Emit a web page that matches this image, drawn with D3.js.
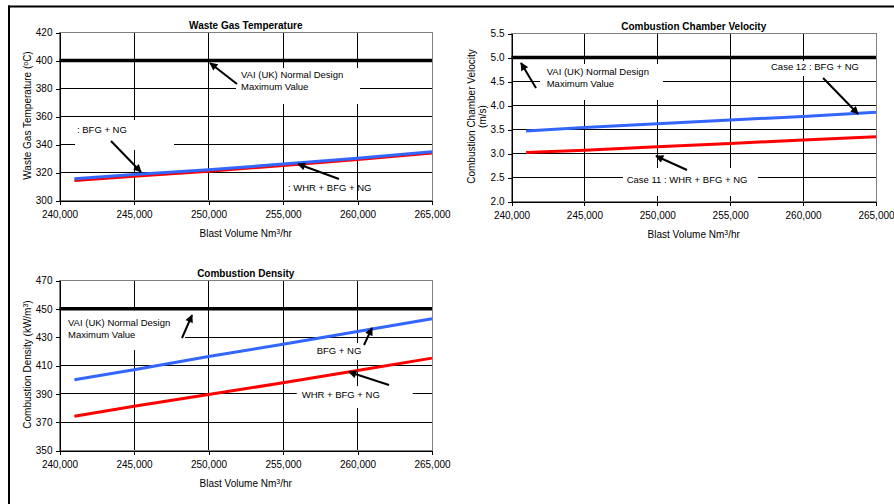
<!DOCTYPE html>
<html>
<head>
<meta charset="utf-8">
<script src="https://cdn.jsdelivr.net/npm/d3@7"></script>
<style>
  body { margin: 0; background: #fff; }
  svg { display: block; font-family: "Liberation Sans", Arial, sans-serif; }
</style>
</head>
<body>
<div id="viz"></div>
<script>
// blast volume (Nm3/hr) at which the cases were run
const blastVolume = [241000, 245000, 250000, 255000, 260000, 265000];
const blastTicks = [240000, 245000, 250000, 255000, 260000, 265000];

// waste gas temperature (C)
const tempBFG = [315.5, 318.6, 322.0, 326.0, 330.2, 334.8];
const tempWHR = [314.3, 317.3, 320.9, 325.0, 329.3, 334.0];
const tempLimit = 400;
const tempTicks = [300, 320, 340, 360, 380, 400, 420];

// combustion chamber velocity (m/s)
const velBFG = [3.47, 3.54, 3.62, 3.70, 3.77, 3.86];
const velWHR = [3.02, 3.07, 3.14, 3.21, 3.28, 3.35];
const velLimit = 5.0;
const velTicks = [2.0, 2.5, 3.0, 3.5, 4.0, 4.5, 5.0, 5.5];

// combustion density (kW/m3)
const densBFG = [400.0, 407.0, 416.4, 425.0, 434.0, 443.0];
const densWHR = [374.2, 381.3, 389.5, 397.8, 406.5, 415.2];
const densLimit = 450;
const densTicks = [350, 370, 390, 410, 430, 450, 470];

// text call-outs, placed in data units: text anchor, white box, arrow tail -> head
const tempNotes = [
  {lines: ["VAI (UK) Normal Design", "Maximum Value"], at: [252181, 387.5],
   box: [251846, 260168, 394.6, 368.9], arrow: [[251913, 383.2], [250101, 398.2]]},
  {lines: [": BFG + NG"], at: [241174, 348.2],
   box: [241040, 247685, 357.5, 336.1], arrow: [[243456, 342.5], [245470, 320.4]]},
  {lines: [": WHR + BFG + NG"], at: [255336, 306.8],
   box: null, arrow: [[258758, 315.4], [256007, 326.1]]}
];
const velNotes = [
  {lines: ["VAI (UK) Normal Design", "Maximum Value"], at: [242414, 4.635],
   box: [241955, 250391, 4.864, 4.115], arrow: [[241680, 4.365], [240652, 4.885]]},
  {lines: ["Case 12 : BFG + NG"], at: [257798, 4.74],
   box: [257592, 263971, 4.927, 4.615], arrow: [[261372, 4.573], [263772, 3.823]]},
  {lines: ["Case 11 : WHR + BFG + NG"], at: [247901, 2.385],
   box: [247647, 256907, 2.698, 2.115], arrow: [[252037, 2.656], [249911, 2.948]]}
];
const densNotes = [
  {lines: ["VAI (UK) Normal Design", "Maximum Value"], at: [240570, 438.1],
   box: [240101, 248423, 449.1, 420.9], arrow: [[248221, 429.4], [248893, 445.6]]},
  {lines: ["BFG + NG"], at: [257262, 417.9],
   box: [256946, 260503, 425.9, 413.9], arrow: [[260436, 424.5], [260973, 436.5]]},
  {lines: ["WHR + BFG + NG"], at: [256255, 386.8],
   box: [255923, 263708, 395.5, 380.0], arrow: [[262114, 396.2], [259430, 405.4]]}
];

const charts = [
  {title: "Waste Gas Temperature", left: 59.5, top: 32.5, width: 372.5, height: 168,
   yTicks: tempTicks, yFormat: d3.format("d"), bfg: tempBFG, whr: tempWHR, limit: tempLimit,
   notes: tempNotes, yLabel: [["Waste Gas Temperature (", ["o", true], "C)"]], yLabelX: [-28.5]},
  {title: "Combustion Chamber Velocity", left: 511.5, top: 33.5, width: 364.5, height: 168,
   yTicks: velTicks, yFormat: d3.format(".1f"), bfg: velBFG, whr: velWHR, limit: velLimit,
   notes: velNotes, yLabel: [["Combustion Chamber Velocity"], ["(m/s)"]], yLabelX: [-37, -25.5]},
  {title: "Combustion Density", left: 59.5, top: 280.5, width: 372.5, height: 170,
   yTicks: densTicks, yFormat: d3.format("d"), bfg: densBFG, whr: densWHR, limit: densLimit,
   notes: densNotes, yLabel: [["Combustion Density (kW/m", ["3", true], ")"]], yLabelX: [-28.5]}
];

const W = 894, H = 504;
const svg = d3.select("#viz").append("svg").attr("width", W).attr("height", H);

svg.append("defs").append("marker")
    .attr("id", "arrowhead")
    .attr("viewBox", "0 0 10 10")
    .attr("refX", 9).attr("refY", 5)
    .attr("markerWidth", 9).attr("markerHeight", 8)
    .attr("markerUnits", "userSpaceOnUse")
    .attr("orient", "auto")
  .append("path")
    .attr("d", "M0,0 L10,5 L0,10 z")
    .attr("fill", "#000");

// page frame (left + top rules)
svg.append("line").attr("x1", 9).attr("x2", 9).attr("y1", 5.5).attr("y2", H)
    .attr("stroke", "#000").attr("stroke-width", 2);
svg.append("line").attr("x1", 8).attr("x2", W).attr("y1", 6.5).attr("y2", 6.5)
    .attr("stroke", "#000").attr("stroke-width", 2);

function addRich(text, parts) {
  parts.forEach(p => {
    if (Array.isArray(p)) {
      text.append("tspan").attr("baseline-shift", "super").attr("font-size", 7).text(p[0]);
    } else {
      text.append("tspan").text(p);
    }
  });
}

function drawChart(c) {
  const x = d3.scaleLinear().domain([240000, 265000]).range([c.left, c.left + c.width]);
  const y = d3.scaleLinear().domain(d3.extent(c.yTicks)).range([c.top + c.height, c.top]);
  const g = svg.append("g");

  // grid
  g.append("g").selectAll("line")
    .data(c.yTicks.slice(1, -1))
    .join("line")
      .attr("x1", x.range()[0]).attr("x2", x.range()[1])
      .attr("y1", d => y(d)).attr("y2", d => y(d))
      .attr("stroke", "#000").attr("shape-rendering", "crispEdges");
  g.append("g").selectAll("line")
    .data(blastTicks.slice(1, -1))
    .join("line")
      .attr("x1", d => x(d)).attr("x2", d => x(d))
      .attr("y1", y.range()[0]).attr("y2", y.range()[1])
      .attr("stroke", "#000").attr("shape-rendering", "crispEdges");

  g.append("rect")
    .attr("x", c.left).attr("y", c.top)
    .attr("width", c.width).attr("height", c.height)
    .attr("fill", "none").attr("stroke", "#808080").attr("shape-rendering", "crispEdges");

  // white boxes behind the call-out text
  g.append("g").selectAll("rect")
    .data(c.notes.filter(n => n.box))
    .join("rect")
      .attr("x", d => x(d.box[0])).attr("y", d => y(d.box[2]))
      .attr("width", d => x(d.box[1]) - x(d.box[0]))
      .attr("height", d => y(d.box[3]) - y(d.box[2]))
      .attr("fill", "#fff");

  // axes
  const xAxis = g.append("g")
    .attr("transform", `translate(0,${y.range()[0]})`)
    .call(d3.axisBottom(x).tickValues(blastTicks).tickSize(4).tickSizeOuter(0)
      .tickPadding(6).tickFormat(d3.format(",")));
  const yAxis = g.append("g")
    .attr("transform", `translate(${c.left},0)`)
    .call(d3.axisLeft(y).tickValues(c.yTicks).tickSize(4).tickSizeOuter(0)
      .tickPadding(3).tickFormat(c.yFormat));
  [xAxis, yAxis].forEach(a => {
    a.attr("font-family", null).attr("font-size", 10);
    a.selectAll("path, line").attr("stroke", "#000").attr("shape-rendering", "crispEdges");
    a.selectAll("text").attr("fill", "#000");
  });

  // design limit
  g.append("line")
    .attr("x1", x.range()[0]).attr("x2", x.range()[1])
    .attr("y1", y(c.limit)).attr("y2", y(c.limit))
    .attr("stroke", "#000").attr("stroke-width", 3.5);

  const line = d3.line().x((d, i) => x(blastVolume[i])).y(d => y(d));
  g.append("path").attr("d", line(c.whr))
    .attr("fill", "none").attr("stroke", "#ff0000").attr("stroke-width", 3);
  g.append("path").attr("d", line(c.bfg))
    .attr("fill", "none").attr("stroke", "#3366ff").attr("stroke-width", 3);

  // call-outs
  c.notes.forEach(n => {
    const t = g.append("text")
      .attr("x", x(n.at[0])).attr("y", y(n.at[1]))
      .attr("font-size", 9.5).attr("fill", "#000");
    n.lines.forEach((l, i) => {
      t.append("tspan").attr("x", x(n.at[0])).attr("dy", i ? 12 : 0).text(l);
    });
    g.append("line")
      .attr("x1", x(n.arrow[0][0])).attr("y1", y(n.arrow[0][1]))
      .attr("x2", x(n.arrow[1][0])).attr("y2", y(n.arrow[1][1]))
      .attr("stroke", "#000").attr("stroke-width", 2)
      .attr("marker-end", "url(#arrowhead)");
  });

  // titles
  g.append("text")
    .attr("x", c.left + c.width / 2).attr("y", c.top - 3.5)
    .attr("text-anchor", "middle").attr("font-size", 10).attr("font-weight", "bold")
    .text(c.title);

  const xl = g.append("text")
    .attr("x", c.left + c.width / 2).attr("y", c.top + c.height + 36)
    .attr("text-anchor", "middle").attr("font-size", 10);
  addRich(xl, ["Blast Volume Nm", ["3", true], "/hr"]);

  c.yLabel.forEach((parts, i) => {
    const yl = g.append("text")
      .attr("transform", `translate(${c.left + c.yLabelX[i]},${c.top + c.height / 2 - 1}) rotate(-90)`)
      .attr("text-anchor", "middle").attr("font-size", 10);
    addRich(yl, parts);
  });
}

charts.forEach(drawChart);
</script>
</body>
</html>
